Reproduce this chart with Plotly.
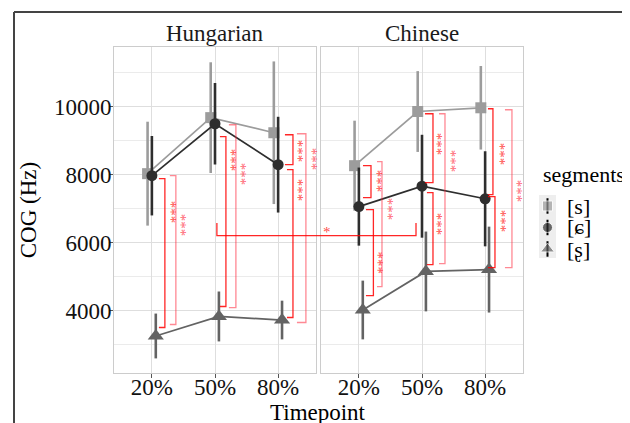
import plotly.graph_objects as go

# ---------------- data ----------------
timepoints = ["20%", "50%", "80%"]
segments = ["[s]", "[ɕ]", "[ʂ]"]
languages = ["Hungarian", "Chinese"]

hu_s_mean = [8030, 9680, 9235]
hu_s_sd = [1530, 1630, 2100]
hu_c_mean = [7970, 9500, 8295]
hu_c_sd = [1170, 1200, 1410]
hu_r_mean = [3250, 3825, 3720]
hu_r_sd = [660, 735, 570]

zh_s_mean = [8265, 9860, 9970]
zh_s_sd = [1325, 1190, 1230]
zh_c_mean = [7060, 7660, 7290]
zh_c_sd = [1150, 1515, 1400]
zh_r_mean = [4015, 5150, 5205]
zh_r_sd = [865, 1175, 1265]

# significance brackets: (x of line, x of tick end, y top, y bottom, label x, label y, label, kind)
hu_brackets = [
    (1.206, 1.111, 7882, 3500, 1.301, 6882, "***", "dark"),
    (1.380, 1.285, 7971, 3588, 1.460, 6500, "***", "light"),
    (2.173, 2.078, 9118, 4118, 2.252, 8412, "***", "dark"),
    (2.331, 2.220, 9471, 4088, 2.410, 8000, "***", "light"),
    (3.235, 3.108, 9176, 8294, 3.314, 8677, "***", "dark"),
    (3.440, 3.298, 9206, 3647, 3.535, 8441, "***", "light"),
    (3.235, 3.140, 8147, 3794, 3.314, 7530, "***", "dark"),
]
zh_brackets = [
    (1.192, 1.065, 8265, 7324, 1.287, 7794, "***", "dark"),
    (1.366, 1.287, 8382, 4706, 1.461, 6971, "***", "light"),
    (1.230, 1.112, 6971, 4441, 1.303, 5412, "***", "dark"),
    (2.174, 2.047, 9794, 7765, 2.237, 8882, "***", "dark"),
    (2.364, 2.269, 9794, 5382, 2.459, 8382, "***", "light"),
    (2.174, 2.078, 7471, 5353, 2.237, 6529, "***", "dark"),
    (3.124, 3.045, 9941, 7412, 3.235, 8588, "***", "dark"),
    (3.425, 3.314, 9912, 5265, 3.504, 7500, "***", "light"),
    (3.156, 3.045, 7353, 5265, 3.251, 6618, "***", "dark"),
]
# cross-language bracket: Hungarian x, Chinese x, y low, y high, label x (Chinese), label y
cross_bracket = (2.03, 1.905, 6206, 6580, 0.495, 6300, "*")

# ---------------- styling / geometry ----------------
# the page adds an 8px body margin, so the figure is 8px smaller and coordinates
# below are given in window pixels of the target picture
OFF = 8
W, H = 630 - OFF, 423 - OFF
ML, MT = 114 - OFF, 47 - OFF
MB = H - (373 - OFF)
MR = 0
PW, PH = W - ML - MR, H - MT - MB
def px(x):
    return (x - OFF - ML) / PW
def py(y):
    return (H - MB - (y - OFF)) / PH

XR = [0.4, 3.6]
YR = [2160, 11760]
dom_hu = [px(114), px(316)]
dom_zh = [px(321), px(523)]
FONT = "Liberation Serif, DejaVu Serif, Times New Roman, serif"
seg_colors = ["#9c9c9c", "#2e2e2e", "#636363"]
seg_symbols = ["square", "circle", "triangle-up"]
seg_sizes = [11, 11, 14]
dodge = [-0.068, 0.0, 0.062]
RED_DARK = "rgba(255,0,0,0.85)"
RED_LIGHT = "rgba(255,40,60,0.55)"
LBL_DARK = "rgba(255,30,30,0.85)"
LBL_LIGHT = "rgba(255,40,60,0.75)"

fig = go.Figure()

panels = [
    ("x", "y", [hu_s_mean, hu_c_mean, hu_r_mean], [hu_s_sd, hu_c_sd, hu_r_sd]),
    ("x2", "y2", [zh_s_mean, zh_c_mean, zh_r_mean], [zh_s_sd, zh_c_sd, zh_r_sd]),
]
for xa, ya, means, sds in panels:
    for k in range(3):
        xs = [i + 1 + dodge[k] for i in range(len(timepoints))]
        fig.add_trace(go.Scatter(
            x=xs, y=means[k], xaxis=xa, yaxis=ya, mode="lines+markers",
            name=segments[k], showlegend=False,
            line=dict(color=seg_colors[k], width=1.7),
            marker=dict(symbol=seg_symbols[k], size=seg_sizes[k], color=seg_colors[k]),
            error_y=dict(type="data", array=sds[k], symmetric=True,
                         color=seg_colors[k], thickness=2.6, width=0),
        ))

# legend keys on an overlay axis
fig.add_trace(go.Scatter(
    x=[0.5, 0.5, 0.5], y=[2, 1, 0], xaxis="x3", yaxis="y3", mode="markers",
    showlegend=False, hoverinfo="skip",
    marker=dict(symbol=seg_symbols, size=[10, 10, 12], color=seg_colors),
    error_y=dict(type="constant", value=0.36, thickness=2, width=0),
))

shapes = []
annotations = []

def add_brackets(brs, xref, yref):
    for xl, xt, yt, yb, lx, ly, lab, kind in brs:
        col = RED_DARK if kind == "dark" else RED_LIGHT
        shapes.append(dict(type="path", xref=xref, yref=yref,
                           path=f"M {xt},{yt} L {xl},{yt} L {xl},{yb} L {xt},{yb}",
                           line=dict(color=col, width=1.3)))
        annotations.append(dict(xref=xref, yref=yref, x=lx, y=ly, text=lab,
                                showarrow=False, textangle=90,
                                font=dict(family=FONT, size=15,
                                          color=LBL_DARK if kind == "dark" else LBL_LIGHT)))

add_brackets(hu_brackets, "x", "y")
add_brackets(zh_brackets, "x2", "y2")

# cross bracket drawn in Hungarian x-domain units
hx, cx, ylo, yhi, lx, ly, lab = cross_bracket
hu_w = dom_hu[1] - dom_hu[0]
def d_hu(x):
    return (x - XR[0]) / (XR[1] - XR[0])
def d_zh(x):
    return (dom_zh[0] - dom_hu[0]) / hu_w + (x - XR[0]) / (XR[1] - XR[0]) * (dom_zh[1] - dom_zh[0]) / hu_w
shapes.append(dict(type="path", xref="x domain", yref="y",
                   path=f"M {d_hu(hx)},{yhi} L {d_hu(hx)},{ylo} L {d_zh(cx)},{ylo} L {d_zh(cx)},{yhi}",
                   line=dict(color=RED_DARK, width=1.3)))
annotations.append(dict(xref="x2", yref="y2", x=lx, y=ly, text=lab, showarrow=False,
                        font=dict(family=FONT, size=15, color=LBL_DARK)))

# outer frame lines
shapes.append(dict(type="line", xref="paper", yref="paper", x0=px(14), x1=px(630),
                   y0=py(12), y1=py(12), line=dict(color="#444444", width=2)))
shapes.append(dict(type="line", xref="paper", yref="paper", x0=px(14), x1=px(14),
                   y0=py(12), y1=py(423), line=dict(color="#444444", width=2)))
# legend key background
shapes.append(dict(type="rect", xref="paper", yref="paper", x0=px(539), x1=px(556),
                   y0=py(258), y1=py(195), fillcolor="#eeeeee", line=dict(width=0), layer="below"))

# strip titles
annotations.append(dict(xref="x domain", yref="paper", x=0.5, y=py(33), text=languages[0],
                        showarrow=False, yanchor="middle",
                        font=dict(family=FONT, size=23, color="#1a1a1a")))
annotations.append(dict(xref="x2 domain", yref="paper", x=0.5, y=py(33), text=languages[1],
                        showarrow=False, yanchor="middle",
                        font=dict(family=FONT, size=23, color="#1a1a1a")))
# x title
annotations.append(dict(xref="paper", yref="paper", x=px(318), y=py(412), text="Timepoint",
                        showarrow=False, yanchor="middle",
                        font=dict(family=FONT, size=23, color="#000000")))
# legend title and labels
annotations.append(dict(xref="paper", yref="paper", x=px(541), y=py(174), text="segments",
                        showarrow=False, xanchor="left", yanchor="middle",
                        font=dict(family=FONT, size=22, color="#000000")))
for k, yy in enumerate([206, 227, 249]):
    annotations.append(dict(xref="paper", yref="paper", x=px(565), y=py(yy), text=segments[k],
                            showarrow=False, xanchor="left", yanchor="middle",
                            font=dict(family=FONT, size=22, color="#000000")))

axis_common = dict(showline=True, mirror=True, linecolor="#cccccc", linewidth=1,
                   gridcolor="#dedede", gridwidth=1.2, zeroline=False, automargin=False,
                   tickfont=dict(family=FONT, size=23, color="#111111"))
xcommon = dict(axis_common, range=XR, tickvals=[1, 2, 3], ticktext=timepoints,
               ticks="outside", ticklen=4, tickcolor="#555555", tickwidth=1,
               ticklabelstandoff=-11)
ycommon = dict(axis_common, range=YR, tick0=0, dtick=2000, tickformat="d",
               minor=dict(dtick=1000, tick0=0, showgrid=True, gridcolor="#ebebeb", gridwidth=1))

fig.update_layout(
    width=W, height=H, margin=dict(l=ML, r=MR, t=MT, b=MB, autoexpand=False),
    paper_bgcolor="white", plot_bgcolor="white",
    showlegend=False,
    xaxis=dict(xcommon, domain=dom_hu, anchor="y"),
    xaxis2=dict(xcommon, domain=dom_zh, anchor="y2"),
    yaxis=dict(ycommon, domain=[0, 1], anchor="x", ticks="outside", ticklen=4,
               tickcolor="#555555", tickwidth=1, ticklabelstandoff=-7,
               title=dict(text="COG (Hz)", standoff=10,
                          font=dict(family=FONT, size=23, color="#000000"))),
    yaxis2=dict(ycommon, domain=[0, 1], anchor="x2", matches="y", showticklabels=False, ticks=""),
    xaxis3=dict(domain=[px(539), px(556)], range=[0, 1], visible=False, anchor="y3", fixedrange=True),
    yaxis3=dict(domain=[py(258), py(195)], range=[-0.42, 2.51], visible=False, anchor="x3", fixedrange=True),
    shapes=shapes, annotations=annotations,
)

fig.write_html("out.html")
